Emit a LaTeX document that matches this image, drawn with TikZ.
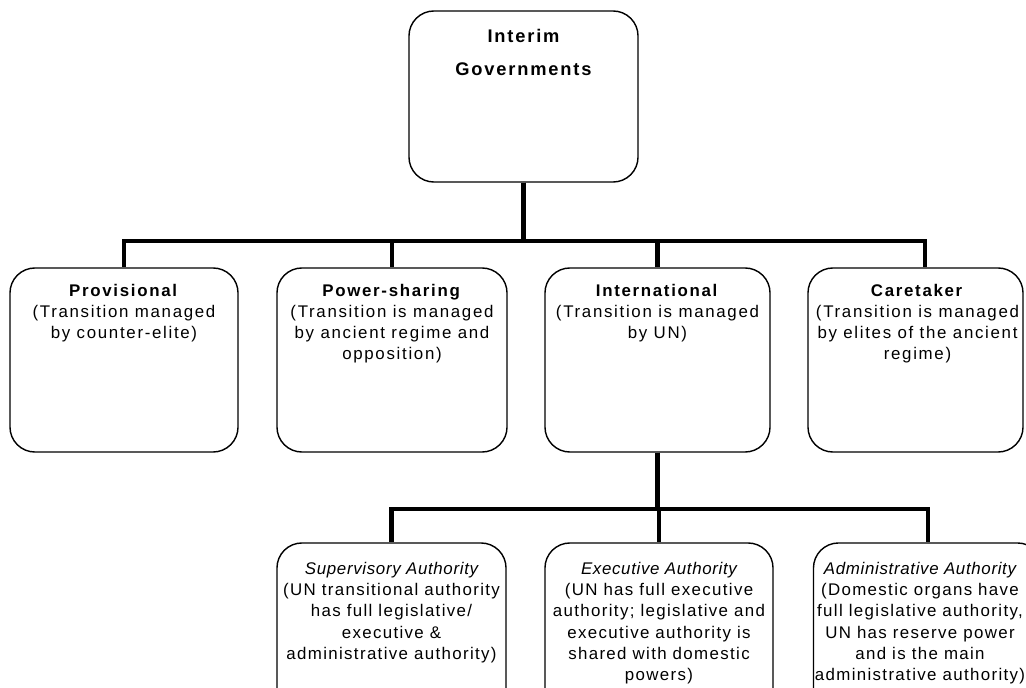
\documentclass[tikz,border=0pt]{standalone}
\usepackage{fontspec}
\setmainfont{Liberation Sans}[LetterSpace=10]
\usetikzlibrary{positioning}

\newcommand\authname[1]{{\itshape\addfontfeature{LetterSpace=4}#1}}

\begin{document}
\begin{tikzpicture}[x=0.025cm, y=-0.025cm,
  govbox/.style={rectangle, draw=black, line width=1pt, rounded corners=0.625cm, inner sep=0pt},
  govtext/.style={align=center, inner sep=0pt, font=\fontsize{12}{15}\selectfont},
  authtext/.style={govtext, font=\fontsize{12}{15}\selectfont\addfontfeature{LetterSpace=8}},
  link/.style={line width=2.9pt}]
  \useasboundingbox (0,0) rectangle (1026,688);
  \clip (0,0) rectangle (1026,688);

  % top
  \node (govs) [govbox, minimum width=5.725cm, minimum height=4.275cm] at (523.5,96.5) {};
  \node (govs-t) [govtext, below=0.46cm of govs.north,
    font=\fontsize{13}{24}\selectfont\bfseries] {Interim\\Governments};

  % second row
  \node (prov) [govbox, minimum width=5.7cm, minimum height=4.6cm] at (124,360) {};
  \node (power) [govbox, minimum width=5.75cm, minimum height=4.6cm] at (392,360) {};
  \node (intl) [govbox, minimum width=5.625cm, minimum height=4.6cm] at (657.5,360) {};
  \node (care) [govbox, minimum width=5.375cm, minimum height=4.6cm] at (915.5,360) {};

  \node (prov-t) [govtext, below=0.42cm of prov.north]
    {\textbf{Provisional}\\(Transition managed\\by counter-elite)};
  \node (power-t) [govtext, below=0.42cm of power.north]
    {\textbf{Power-sharing}\\(Transition is managed\\by ancient regime and\\opposition)};
  \node (intl-t) [govtext, below=0.42cm of intl.north]
    {\textbf{International}\\(Transition is managed\\by UN)};
  \node (care-t) [govtext, below=0.42cm of care.north, xshift=0.05cm]
    {\textbf{Caretaker}\\(Transition is managed\\by elites of the ancient\\regime)};

  % third row
  \node (sup) [govbox, minimum width=5.725cm, minimum height=4.3cm] at (391.5,629) {};
  \node (exec) [govbox, minimum width=5.7cm, minimum height=4.3cm] at (659,629) {};
  \node (admin) [govbox, minimum width=5.725cm, minimum height=4.3cm] at (928,629) {};

  \node (sup-t) [authtext, below=0.5cm of sup.north]
    {\authname{Supervisory Authority}\\(UN transitional authority\\has full legislative/\\executive \&\\administrative authority)};
  \node (exec-t) [authtext, below=0.5cm of exec.north]
    {\authname{Executive Authority}\\(UN has full executive\\authority; legislative and\\executive authority is\\shared with domestic\\powers)};
  \node (admin-t) [authtext, below=0.5cm of admin.north, xshift=-0.2cm]
    {\authname{Administrative Authority}\\(Domestic organs have\\full legislative authority,\\UN has reserve power\\and is the main\\administrative authority)};

  % links
  \foreach \c in {prov,power,intl}
    \draw[link] (govs.south) -- ++(0,58) -| (\c.north);
  \draw[link] (govs.south) -- ++(0,58) -| ([xshift=0.24cm]care.north);
  \foreach \c in {sup,exec,admin}
    \draw[link] (intl.south) -- ++(0,56) -| (\c.north);
\end{tikzpicture}
\end{document}
